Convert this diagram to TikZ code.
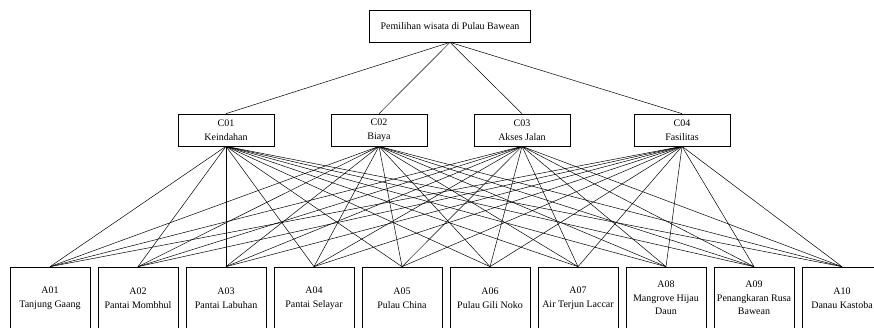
\documentclass[tikz,border=0pt]{standalone}
\usepackage{fontspec}
\setmainfont{Liberation Serif}
\tikzset{
  goal/.style={draw, line width=0.7pt, minimum width=161pt, minimum height=32pt, inner sep=1pt},
  crit/.style={draw, line width=0.7pt, minimum width=96pt, minimum height=32pt, align=center, inner sep=1pt},
  alt/.style={draw, line width=0.7pt, minimum width=80pt, minimum height=62pt, align=center, inner sep=1pt}
}
\begin{document}
\begin{tikzpicture}[x=1pt, y=-1pt, font=\fontsize{10}{13.5}\selectfont, line width=0.5pt]
      \useasboundingbox (0,0) rectangle (874,327);
      \clip (0,0) rectangle (874,327);
      \node[goal] (g) at (450,26) {Pemilihan wisata di Pulau Bawean};
      \node[crit] (c1) at (226,130) {C01\\Keindahan};
      \node[crit] (c2) at (379,130) {C02\\Biaya};
      \node[crit] (c3) at (522,130) {C03\\Akses Jalan};
      \node[crit] (c4) at (682,130) {C04\\Fasilitas};
      \node[alt] (a1) at (50,298) {A01\\Tanjung Gaang};
      \node[alt] (a2) at (138,298) {A02\\Pantai Mombhul};
      \node[alt] (a3) at (226,298) {A03\\Pantai Labuhan};
      \node[alt] (a4) at (314,298) {A04\\Pantai Selayar};
      \node[alt] (a5) at (402,298) {A05\\Pulau China};
      \node[alt] (a6) at (490,298) {A06\\Pulau Gili Noko};
      \node[alt] (a7) at (578,298) {A07\\Air Terjun Laccar};
      \node[alt] (a8) at (666,298) {A08\\Mangrove Hijau\\Daun};
      \node[alt] (a9) at (754,298) {A09\\Penangkaran Rusa\\Bawean};
      \node[alt] (a10) at (842,298) {A10\\Danau Kastoba};
      \begin{scope}[-]
        \draw (g.south) to (c1.north);
        \draw (g.south) to (c2.north);
        \draw (g.south) to (c3.north);
        \draw (g.south) to (c4.north);
        % Keindahan
        \draw (c1.south) to (a1.north);
        \draw (c1.south) to (a2.north);
        \draw (c1.south) to (a3.north);
        \draw (c1.south) to (a4.north);
        \draw (c1.south) to (a5.north);
        \draw (c1.south) to (a6.north);
        \draw (c1.south) to (a7.north);
        \draw (c1.south) to (a8.north);
        \draw (c1.south) to (a9.north);
        \draw (c1.south) to (a10.north);
        % Biaya
        \draw (c2.south) to (a1.north);
        \draw (c2.south) to (a2.north);
        \draw (c2.south) to (a3.north);
        \draw (c2.south) to (a4.north);
        \draw (c2.south) to (a5.north);
        \draw (c2.south) to (a6.north);
        \draw (c2.south) to (a7.north);
        \draw (c2.south) to (a8.north);
        \draw (c2.south) to (a9.north);
        \draw (c2.south) to (a10.north);
        % Akses Jalan
        \draw (c3.south) to (a1.north);
        \draw (c3.south) to (a2.north);
        \draw (c3.south) to (a3.north);
        \draw (c3.south) to (a4.north);
        \draw (c3.south) to (a5.north);
        \draw (c3.south) to (a6.north);
        \draw (c3.south) to (a7.north);
        \draw (c3.south) to (a8.north);
        \draw (c3.south) to (a9.north);
        \draw (c3.south) to (a10.north);
        % Fasilitas
        \draw (c4.south) to (a1.north);
        \draw (c4.south) to (a2.north);
        \draw (c4.south) to (a3.north);
        \draw (c4.south) to (a4.north);
        \draw (c4.south) to (a5.north);
        \draw (c4.south) to (a6.north);
        \draw (c4.south) to (a7.north);
        \draw (c4.south) to (a8.north);
        \draw (c4.south) to (a9.north);
        \draw (c4.south) to (a10.north);
      \end{scope}
    \end{tikzpicture}
\end{document}
